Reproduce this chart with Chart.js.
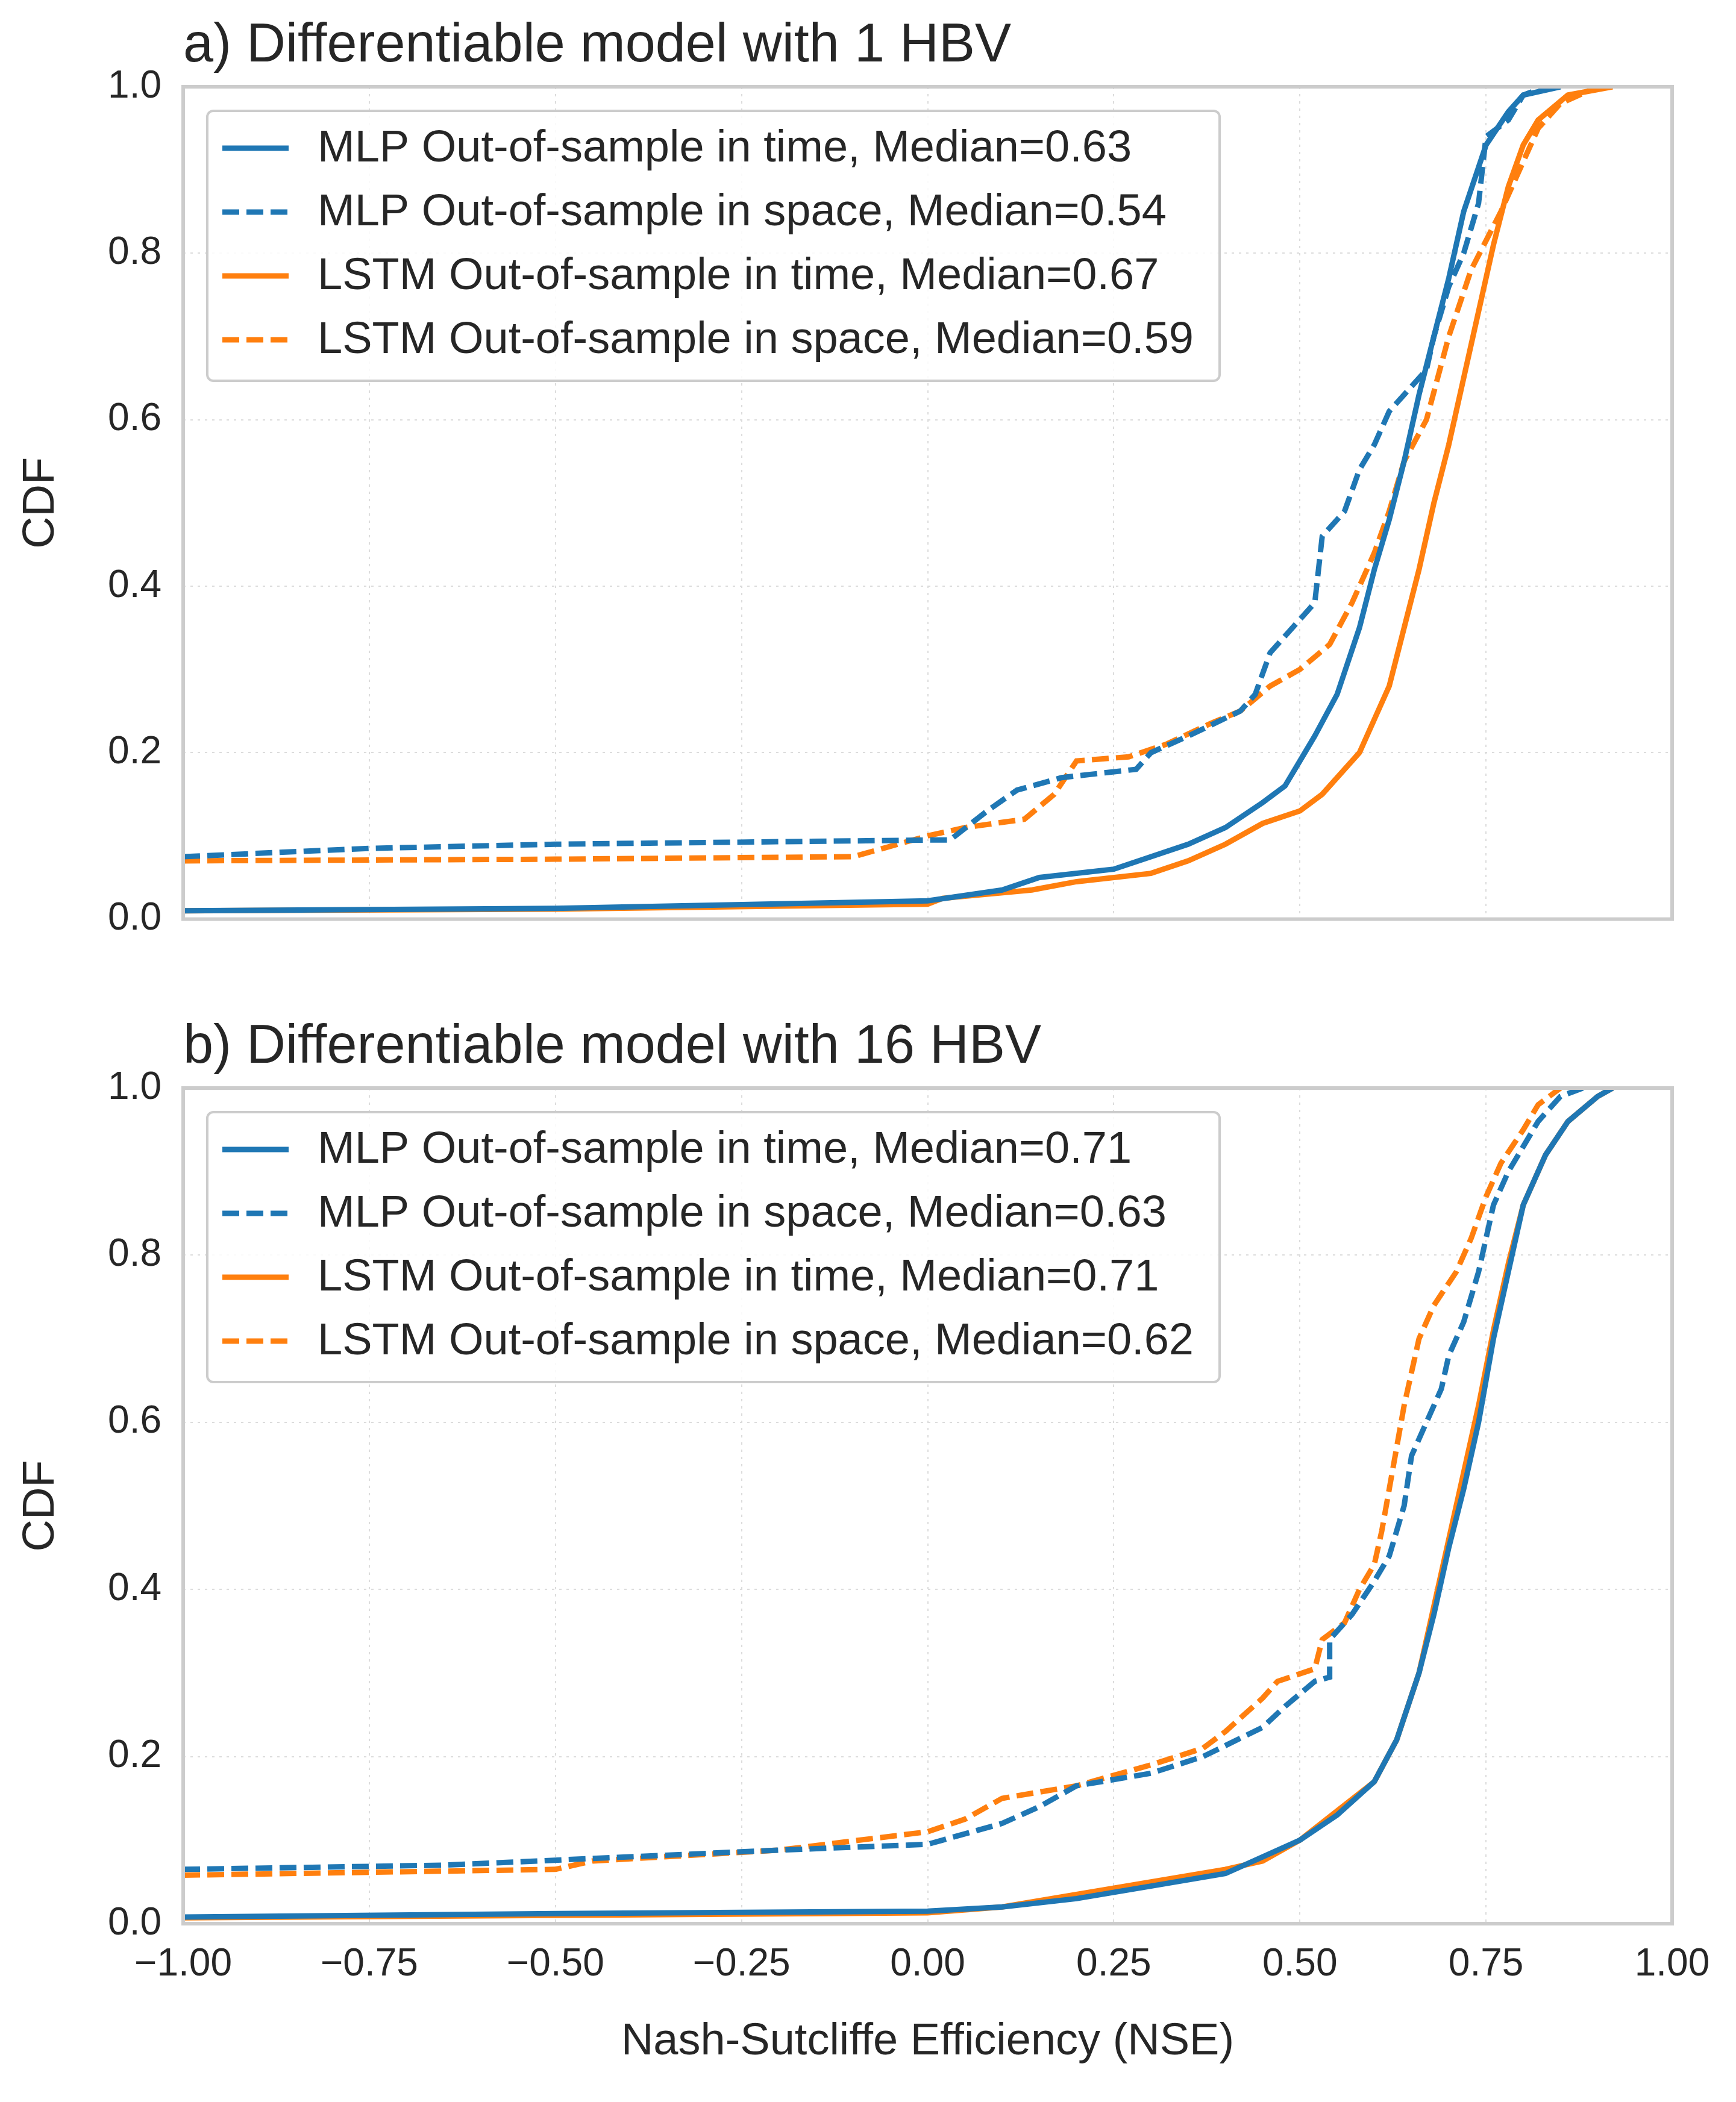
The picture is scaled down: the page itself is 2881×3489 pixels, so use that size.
<!DOCTYPE html>
<html><head><meta charset="utf-8">
<script src="https://cdn.jsdelivr.net/npm/chart.js@4"></script>
<style>html,body{margin:0;padding:0;background:#fff;width:2881px;height:3489px;overflow:hidden}
.w{position:absolute;left:0;width:2881px}</style></head>
<body>
<div class="w" style="top:0;height:1600px"><canvas id="c1"></canvas></div>
<div class="w" style="top:1650px;height:1839px"><canvas id="c2"></canvas></div>
<script>
const xTicks=[-1,-0.75,-0.5,-0.25,0,0.25,0.5,0.75,1];
const yTicks=[0,0.2,0.4,0.6,0.8,1.0];
const titles=["a) Differentiable model with 1 HBV","b) Differentiable model with 16 HBV"];
const labelsA=["MLP Out-of-sample in time, Median=0.63","MLP Out-of-sample in space, Median=0.54","LSTM Out-of-sample in time, Median=0.67","LSTM Out-of-sample in space, Median=0.59"];
const labelsB=["MLP Out-of-sample in time, Median=0.71","MLP Out-of-sample in space, Median=0.63","LSTM Out-of-sample in time, Median=0.71","LSTM Out-of-sample in space, Median=0.62"];
const aMlpTime=[[-1,0.01],[-0.5,0.013],[0,0.022],[0.1,0.035],[0.15,0.05],[0.25,0.06],[0.3,0.075],[0.35,0.09],[0.4,0.11],[0.45,0.14],[0.48,0.16],[0.5,0.19],[0.52,0.22],[0.55,0.27],[0.58,0.35],[0.6,0.42],[0.62,0.48],[0.64,0.55],[0.66,0.63],[0.68,0.7],[0.7,0.77],[0.72,0.85],[0.75,0.93],[0.78,0.97],[0.8,0.99],[0.85,1.0]];
const aMlpSpace=[[-1,0.075],[-0.75,0.085],[-0.5,0.09],[0,0.095],[0.03,0.095],[0.08,0.13],[0.12,0.155],[0.18,0.17],[0.28,0.18],[0.3,0.2],[0.35,0.22],[0.42,0.25],[0.44,0.27],[0.46,0.32],[0.5,0.36],[0.52,0.38],[0.53,0.46],[0.56,0.49],[0.58,0.54],[0.6,0.57],[0.62,0.61],[0.65,0.64],[0.67,0.66],[0.68,0.7],[0.7,0.76],[0.72,0.8],[0.74,0.86],[0.75,0.94],[0.78,0.96],[0.8,0.99],[0.83,1.0]];
const aLstmTime=[[-1,0.01],[-0.5,0.012],[0,0.018],[0.02,0.025],[0.14,0.035],[0.2,0.045],[0.3,0.055],[0.35,0.07],[0.4,0.09],[0.45,0.115],[0.5,0.13],[0.53,0.15],[0.58,0.2],[0.62,0.28],[0.64,0.35],[0.66,0.42],[0.68,0.5],[0.7,0.57],[0.72,0.65],[0.74,0.73],[0.76,0.81],[0.78,0.88],[0.8,0.93],[0.82,0.96],[0.86,0.99],[0.92,1.0]];
const aLstmSpace=[[-1,0.07],[-0.5,0.072],[-0.1,0.075],[0,0.1],[0.05,0.11],[0.13,0.12],[0.17,0.15],[0.2,0.19],[0.27,0.195],[0.32,0.21],[0.38,0.235],[0.42,0.25],[0.46,0.28],[0.5,0.3],[0.54,0.33],[0.57,0.38],[0.6,0.44],[0.62,0.49],[0.64,0.55],[0.67,0.6],[0.7,0.7],[0.73,0.78],[0.77,0.85],[0.8,0.91],[0.82,0.95],[0.85,0.98],[0.9,1.0]];
const bMlpTime=[[-1,0.008],[-0.5,0.012],[0,0.015],[0.1,0.02],[0.2,0.03],[0.3,0.045],[0.4,0.06],[0.45,0.08],[0.5,0.1],[0.55,0.13],[0.6,0.17],[0.63,0.22],[0.66,0.3],[0.68,0.37],[0.7,0.45],[0.72,0.52],[0.74,0.6],[0.76,0.7],[0.78,0.78],[0.8,0.86],[0.83,0.92],[0.86,0.96],[0.9,0.99],[0.92,1.0]];
const bMlpSpace=[[-1,0.065],[-0.65,0.07],[-0.4,0.08],[-0.2,0.088],[0,0.095],[0.02,0.1],[0.1,0.12],[0.15,0.14],[0.2,0.165],[0.3,0.18],[0.37,0.2],[0.45,0.235],[0.48,0.26],[0.52,0.29],[0.54,0.295],[0.54,0.34],[0.57,0.37],[0.6,0.41],[0.62,0.44],[0.63,0.47],[0.64,0.5],[0.65,0.56],[0.67,0.6],[0.69,0.64],[0.7,0.68],[0.72,0.72],[0.74,0.78],[0.76,0.86],[0.78,0.9],[0.8,0.93],[0.82,0.96],[0.85,0.99],[0.88,1.0]];
const bLstmTime=[[-1,0.007],[-0.5,0.01],[0,0.013],[0.1,0.02],[0.2,0.035],[0.3,0.05],[0.4,0.065],[0.45,0.075],[0.5,0.1],[0.55,0.135],[0.6,0.17],[0.63,0.22],[0.66,0.3],[0.68,0.38],[0.7,0.46],[0.72,0.54],[0.74,0.62],[0.76,0.71],[0.78,0.79],[0.8,0.86],[0.83,0.92],[0.86,0.96],[0.9,0.99],[0.92,1.0]];
const bLstmSpace=[[-1,0.058],[-0.5,0.065],[-0.45,0.075],[-0.2,0.088],[0,0.11],[0.05,0.125],[0.1,0.15],[0.2,0.165],[0.3,0.19],[0.37,0.21],[0.4,0.23],[0.45,0.27],[0.47,0.29],[0.52,0.305],[0.53,0.34],[0.56,0.36],[0.58,0.4],[0.6,0.43],[0.61,0.47],[0.62,0.52],[0.63,0.57],[0.64,0.62],[0.65,0.66],[0.66,0.7],[0.68,0.74],[0.71,0.78],[0.73,0.82],[0.75,0.87],[0.77,0.91],[0.8,0.95],[0.82,0.98],[0.85,1.0]];

const BLUE='#1f77b4',ORANGE='#ff7f0e',DASH=[28,12],FONT='"Liberation Sans", Arial, sans-serif',TXT='#262626';
function ds(lbl,d,c,dash){return {label:lbl,data:d.map(p=>({x:p[0],y:p[1]})),borderColor:c,backgroundColor:c,borderWidth:9,borderDash:dash?DASH:[],pointRadius:0,tension:0,fill:false};}
const deco={id:'deco',afterDraw(ch){
  const o=ch.options.plugins.deco,a=ch.chartArea,g=ch.ctx;g.save();
  g.fillStyle=TXT;g.font='90px '+FONT;g.textBaseline='alphabetic';g.textAlign='left';
  g.fillText(o.title,a.left,a.top-42);
  const bx=a.left+40,by=a.top+40,bw=1680,bh=448;
  g.fillStyle='rgba(255,255,255,0.85)';g.strokeStyle='#cccccc';g.lineWidth=4;
  g.beginPath();g.roundRect(bx,by,bw,bh,10);g.fill();g.stroke();
  g.font='74px '+FONT;g.textBaseline='middle';
  ch.data.datasets.forEach((d,i)=>{const y=by+62+i*106;
    g.strokeStyle=d.borderColor;g.lineWidth=9;g.setLineDash(d.borderDash);g.beginPath();g.moveTo(bx+25,y);g.lineTo(bx+135,y);g.stroke();g.setLineDash([]);
    g.fillStyle=TXT;g.fillText(d.label,bx+183,y+2);});
  g.strokeStyle='#cccccc';g.lineWidth=6;g.strokeRect(a.left,a.top,a.right-a.left,a.bottom-a.top);
  g.restore();}};
function make(id,sets,title,bottom){
  new Chart(document.getElementById(id),{type:'line',data:{datasets:sets},plugins:[deco],
  options:{responsive:true,maintainAspectRatio:false,animation:false,
   layout:{padding:{top:bottom?156:144,right:106,bottom:bottom?55:28,left:20}},
   plugins:{legend:{display:false},tooltip:{enabled:false},deco:{title}},
   scales:{
    x:{type:'linear',min:-1,max:1,afterBuildTicks:s=>{s.ticks=xTicks.map(v=>({value:v}))},
       afterFit:s=>{s.height=bottom?241:0},
       grid:{color:'#dcdcdc',lineWidth:2,tickLength:0,drawTicks:false},border:{display:true,width:0,color:'rgba(0,0,0,0)',dash:[4,8]},
       ticks:{display:bottom,padding:30,font:{size:64,family:FONT},color:TXT,callback:v=>(v<0?'\u2212':'')+Math.abs(v).toFixed(2)},
       title:{display:bottom,text:'Nash-Sutcliffe Efficiency (NSE)',font:{size:74,family:FONT},color:TXT,padding:{top:10,bottom:0}}},
    y:{min:0,max:1,afterBuildTicks:s=>{s.ticks=yTicks.map(v=>({value:v}))},
       afterFit:s=>{s.width=284},
       grid:{color:'#dcdcdc',lineWidth:2,drawTicks:false},border:{display:true,width:0,color:'rgba(0,0,0,0)',dash:[4,8]},
       ticks:{padding:36,font:{size:64,family:FONT},color:TXT,callback:v=>v.toFixed(1)},
       title:{display:true,text:'CDF',font:{size:74,family:FONT},color:TXT,padding:{bottom:0}}}}}});
}
make('c1',[ds(labelsA[0],aMlpTime,BLUE,false),ds(labelsA[1],aMlpSpace,BLUE,true),ds(labelsA[2],aLstmTime,ORANGE,false),ds(labelsA[3],aLstmSpace,ORANGE,true)],titles[0],false);
make('c2',[ds(labelsB[0],bMlpTime,BLUE,false),ds(labelsB[1],bMlpSpace,BLUE,true),ds(labelsB[2],bLstmTime,ORANGE,false),ds(labelsB[3],bLstmSpace,ORANGE,true)],titles[1],true);
</script></body></html>
